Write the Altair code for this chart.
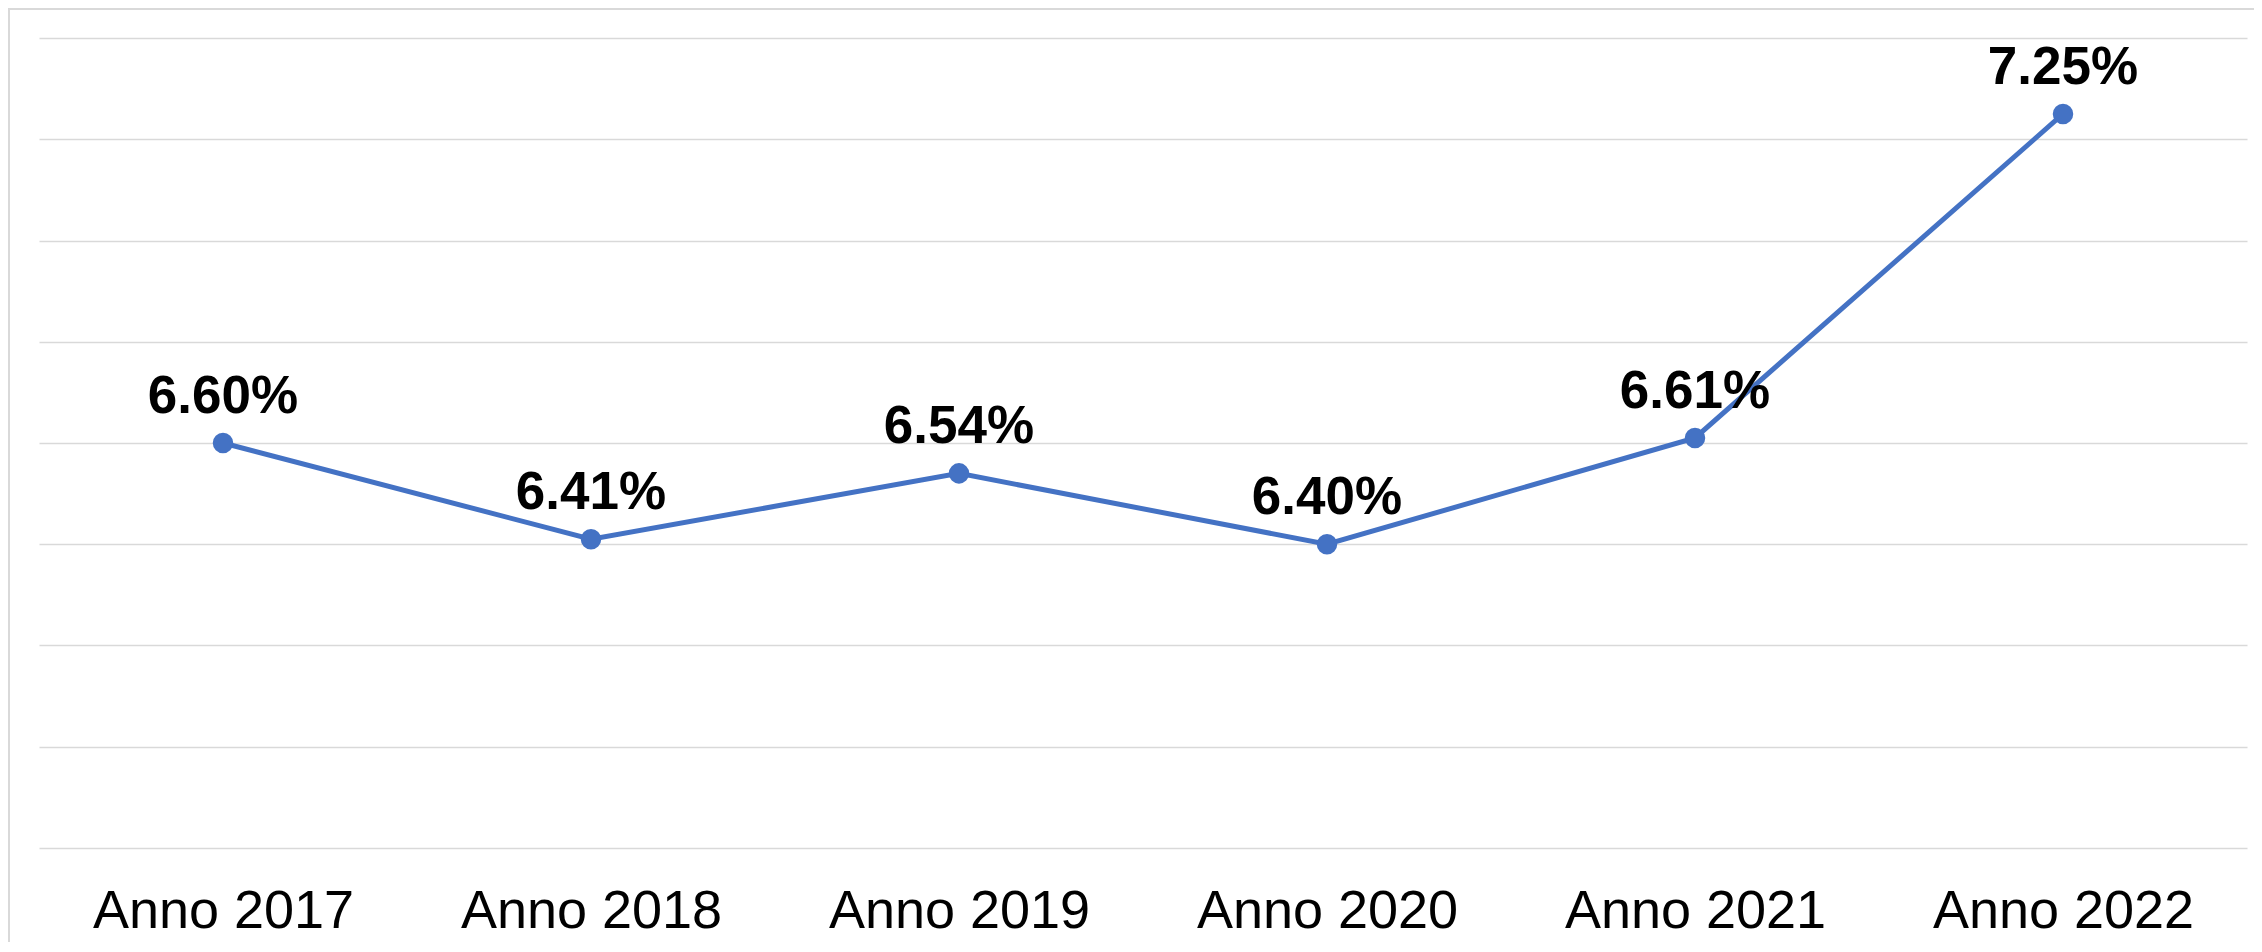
import altair as alt
import pandas as pd

years = ["Anno 2017", "Anno 2018", "Anno 2019", "Anno 2020", "Anno 2021", "Anno 2022"]
values = [6.60, 6.41, 6.54, 6.40, 6.61, 7.25]

df = pd.DataFrame({"anno": years, "valore": values})

FONT = "Liberation Sans"
BLUE = "#4472C4"
GRID = "#d9d9d9"

x_enc = alt.X("anno:N", sort=years, title=None,
              axis=alt.Axis(labelAngle=0, labelFontSize=54, labelFont=FONT,
                            labelColor="#000000", labelPadding=36, labelLimit=0,
                            domain=False, ticks=False, grid=False))
y_enc = alt.Y("valore:Q", title=None,
              scale=alt.Scale(domain=[5.8, 7.4], nice=False, zero=False),
              axis=alt.Axis(values=[5.8, 6.0, 6.2, 6.4, 6.6, 6.8, 7.0, 7.2, 7.4],
                            labels=False, ticks=False, domain=False,
                            grid=True, gridColor=GRID, gridWidth=1.5))

base = alt.Chart(df)

border = base.mark_rect(fillOpacity=0, stroke=GRID, strokeWidth=1.5).encode(
    x=alt.value(-30), x2=alt.value(2400), y=alt.value(-29), y2=alt.value(1100)
)

line = base.mark_line(color=BLUE, strokeWidth=5).encode(x=x_enc, y=y_enc)
points = base.mark_circle(color=BLUE, size=420, opacity=1).encode(
    x=alt.X("anno:N", sort=years), y="valore:Q")
labels = base.transform_calculate(
    lab="format(datum.valore, '.2f') + '%'"
).mark_text(font=FONT, fontSize=53, fontWeight="bold", color="#000000",
            baseline="alphabetic", dy=-30).encode(
    x=alt.X("anno:N", sort=years), y="valore:Q", text="lab:N")

chart = alt.layer(border, line, points, labels).properties(
    width=2208, height=810,
    autosize=alt.AutoSizeParams(type="none"),
    padding={"left": 31, "top": 30, "right": 7, "bottom": 94},
    background="#ffffff",
).configure_view(stroke=None)

chart.save("out.html", embed_options={"renderer": "svg", "actions": False})
